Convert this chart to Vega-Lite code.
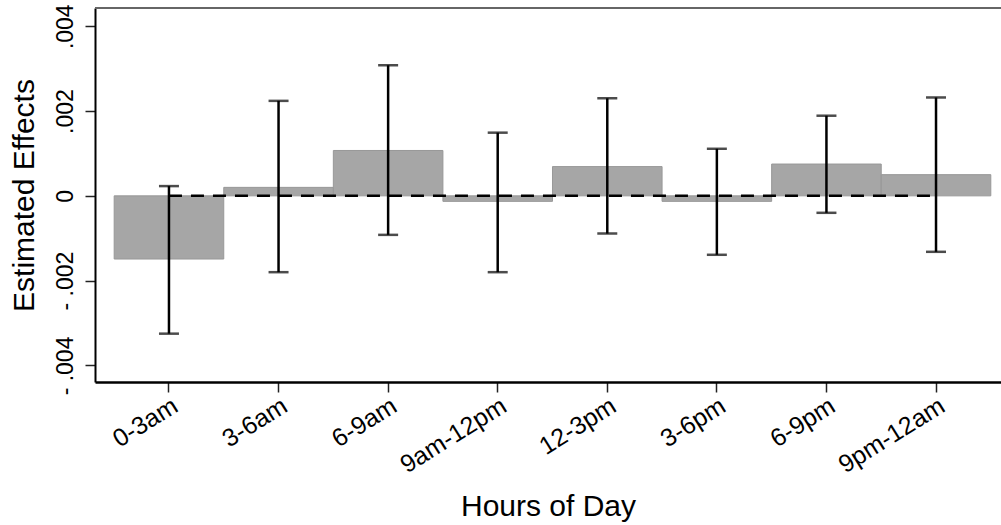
{
  "$schema": "https://vega.github.io/schema/vega-lite/v6.json",
  "width": 906,
  "height": 374,
  "autosize": {"type": "none"},
  "padding": {"left": 95, "top": 8, "right": 0, "bottom": 143},
  "background": "white",
  "config": {
    "view": {"stroke": null},
    "font": "Liberation Sans",
    "axis": {"labelFont": "Liberation Sans", "titleFont": "Liberation Sans", "titleFontWeight": "normal", "labelColor": "black", "titleColor": "black"}
  },
  "data": {
    "values": [
      {"hour": "0-3am", "est": -0.00149, "lo": -0.00325, "hi": 0.00023},
      {"hour": "3-6am", "est": 0.0002, "lo": -0.0018, "hi": 0.00224},
      {"hour": "6-9am", "est": 0.00107, "lo": -0.00092, "hi": 0.00308},
      {"hour": "9am-12pm", "est": -0.00013, "lo": -0.0018, "hi": 0.00149},
      {"hour": "12-3pm", "est": 0.00069, "lo": -0.00089, "hi": 0.0023},
      {"hour": "3-6pm", "est": -0.00013, "lo": -0.00139, "hi": 0.00111},
      {"hour": "6-9pm", "est": 0.00075, "lo": -0.0004, "hi": 0.00189},
      {"hour": "9pm-12am", "est": 0.0005, "lo": -0.00132, "hi": 0.00232}
    ]
  },
  "encoding": {
    "x": {
      "field": "hour",
      "type": "nominal",
      "sort": null,
      "scale": {"paddingInner": 0, "paddingOuter": 0.134, "align": 0.653},
      "axis": {
        "title": "Hours of Day",
        "titleFontSize": 30,
        "titlePadding": 14,
        "labelFontSize": 25,
        "labelAngle": -32,
        "labelAlign": "right",
        "labelBaseline": "top",
        "labelPadding": 1,
        "tickSize": 10,
        "tickColor": "#222",
        "tickWidth": 1.5,
        "domainColor": "black",
        "domainWidth": 2.5,
        "labelOverlap": false
      }
    }
  },
  "layer": [
    {
      "mark": {"type": "bar", "color": "#a6a6a6", "stroke": "#989898", "strokeWidth": 1},
      "encoding": {
        "y": {
          "field": "est",
          "type": "quantitative",
          "scale": {"domain": [-0.00439, 0.00443], "nice": false, "zero": false},
          "axis": {
            "title": "Estimated Effects",
            "titleFontSize": 30,
            "titlePadding": 15,
            "values": [-0.004, -0.002, 0, 0.002, 0.004],
            "labelExpr": "datum.value == 0 ? '0' : (datum.value < 0 ? '- ' : '') + replace(format(abs(datum.value), '.3f'), '0.', '.')",
            "labelFontSize": 23,
            "labelAngle": -90,
            "labelAlign": "center",
            "labelBaseline": "alphabetic",
            "labelPadding": 13,
            "tickSize": 10,
            "tickColor": "#222",
            "tickWidth": 1.5,
            "domainColor": "black",
            "domainWidth": 2,
            "grid": false
          }
        }
      }
    },
    {
      "mark": {"type": "rule", "color": "#666", "strokeWidth": 2},
      "encoding": {"y": {"datum": 0.00443, "type": "quantitative"}, "x": null}
    },
    {
      "mark": {"type": "line", "color": "black", "strokeWidth": 2.5, "strokeDash": [13, 9]},
      "encoding": {"y": {"datum": 0, "type": "quantitative"}}
    },
    {
      "mark": {"type": "rule", "color": "black", "strokeWidth": 2.5},
      "encoding": {"y": {"field": "lo", "type": "quantitative"}, "y2": {"field": "hi"}}
    },
    {
      "mark": {"type": "tick", "color": "black", "thickness": 2.5, "size": 20},
      "encoding": {"y": {"field": "lo", "type": "quantitative"}}
    },
    {
      "mark": {"type": "tick", "color": "black", "thickness": 2.5, "size": 20},
      "encoding": {"y": {"field": "hi", "type": "quantitative"}}
    }
  ]
}
